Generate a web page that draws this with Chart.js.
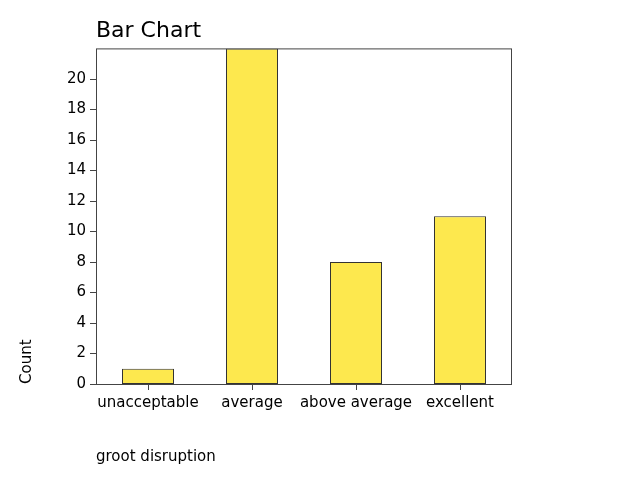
<!DOCTYPE html>
<html>
<head>
<meta charset="utf-8">
<script src="https://cdn.jsdelivr.net/npm/chart.js@4/dist/chart.umd.min.js"></script>
<style>
  body { margin: 0; background: #fff; }
  #wrap { width: 640px; height: 480px; }
</style>
</head>
<body>
<div id="wrap"><canvas id="myChart" width="640" height="480"></canvas></div>
<script>
// Bar chart data
var categories = ['unacceptable', 'average', 'above average', 'excellent'];
var counts = [1, 22, 8, 11];
var yTicks = [0, 2, 4, 6, 8, 10, 12, 14, 16, 18, 20];

var font = 'DejaVu Sans';
var axisColor = '#444';
var tickLen = 6;

// frame round the plot area and outward tick marks
var frame = {
    id: 'frame',
    afterDatasetsDraw: function (chart) {
        var a = chart.chartArea, c = chart.ctx;
        var xs = chart.scales.x, ys = chart.scales.y;
        c.save();
        c.strokeStyle = axisColor;
        c.lineWidth = 1;
        c.strokeRect(a.left + 0.5, a.top + 0.5, a.right - a.left - 1, a.bottom - a.top);
        c.beginPath();
        xs.ticks.forEach(function (t, i) {
            var px = Math.round(xs.getPixelForTick(i)) + 0.5;
            c.moveTo(px, a.bottom);
            c.lineTo(px, a.bottom + tickLen);
        });
        ys.ticks.forEach(function (t, i) {
            var py = Math.round(ys.getPixelForTick(i)) + 0.5;
            c.moveTo(a.left, py);
            c.lineTo(a.left - tickLen, py);
        });
        c.stroke();
        c.restore();
    }
};

var ctx = document.getElementById('myChart').getContext('2d');
var myChart = new Chart(ctx, {
    type: 'bar',
    data: {
        labels: categories,
        datasets: [{
            label: 'Count',
            data: counts,
            backgroundColor: '#fde84e',
            borderColor: '#333',
            borderWidth: 1,
            borderSkipped: false,
            barPercentage: 0.5,
            categoryPercentage: 1
        }]
    },
    options: {
        responsive: false,
        animation: false,
        layout: {
            padding: { left: 0, right: 128, top: 0, bottom: 0 }
        },
        plugins: {
            legend: { display: false },
            tooltip: { enabled: false },
            title: {
                display: true,
                text: 'Bar Chart',
                align: 'start',
                fullSize: false,
                color: '#000',
                font: { family: font, size: 22, weight: 'normal' },
                padding: { top: 18, bottom: 4 }
            }
        },
        scales: {
            x: {
                grid: { display: false, tickLength: 6 },
                border: { display: false },
                ticks: { color: '#000', font: { family: font, size: 15 }, padding: 4, maxRotation: 0, autoSkip: false },
                title: {
                    display: true,
                    text: 'groot disruption',
                    align: 'start',
                    color: '#000',
                    font: { family: font, size: 15 },
                    padding: { top: 0, bottom: 14 }
                },
                afterFit: function (s) { s.height = 96; }
            },
            y: {
                min: 0,
                max: 22,
                afterBuildTicks: function (s) {
                    s.ticks = yTicks.map(function (v) { return { value: v }; });
                },
                grid: { display: false, tickLength: 6 },
                border: { display: false },
                ticks: { color: '#000', font: { family: font, size: 15 }, padding: 4 },
                title: {
                    display: true,
                    text: 'Count',
                    align: 'start',
                    color: '#000',
                    font: { family: font, size: 15 },
                    padding: { top: 18, bottom: 0 }
                },
                afterFit: function (s) { s.width = 96; }
            }
        }
    },
    plugins: [frame]
});
</script>
</body>
</html>
